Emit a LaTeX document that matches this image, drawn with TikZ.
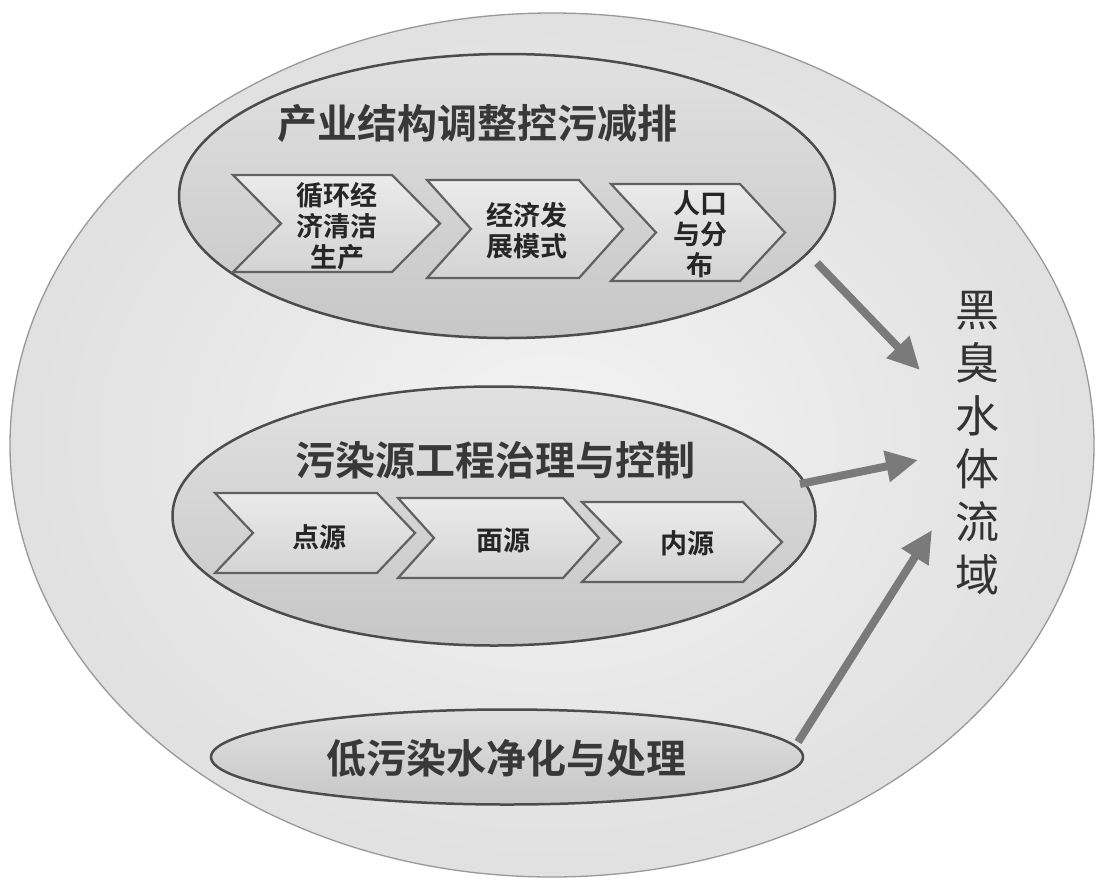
\documentclass[tikz,border=0pt]{standalone}
\usepackage{fontspec}
\usetikzlibrary{arrows.meta,shapes.geometric}
\newfontfamily\cjk{Noto Sans CJK SC}[BoldFont={Noto Sans CJK SC Bold}]
\newcommand{\chevpath}[5]{% x y w h d
  (#1,#2) -- ({#1+#3-#5},#2) -- ({#1+#3},{#2+#4/2}) -- ({#1+#3-#5},{#2+#4}) -- (#1,{#2+#4}) -- ({#1+#5},{#2+#4/2}) -- cycle}
\tikzset{
  outerell/.style={ellipse, draw=gray!80, line width=1.3pt, inner color=gray!9, outer color=gray!24,
    minimum width=1084pt, minimum height=864pt, inner sep=0pt},
  innerell/.style={ellipse, draw=black!70, line width=2.5pt, top color=gray!24, bottom color=gray!44, inner sep=0pt},
  chevshape/.style={draw=black!62, line width=2.2pt, top color=gray!16, bottom color=gray!34},
  chevtext/.style={font=\cjk\bfseries\fontsize{27}{31}\selectfont, text=black!85, align=center, inner sep=0pt},
  titletext/.style={font=\cjk\bfseries\fontsize{40}{48}\selectfont, text=black!78, inner sep=0pt},
  sidetext/.style={font=\cjk\fontsize{44}{53}\selectfont, text=black!80, align=center, inner sep=0pt},
  flowarrow/.style={line width=8pt, draw=black!52, -{Triangle[width=30pt,length=32pt]}},
}
\begin{document}
\begin{tikzpicture}[x=1pt,y=-1pt]
\useasboundingbox[fill=white] (0,0) rectangle (1102,881);
% outer ellipse
\node[outerell] (outer) at (552,445) {};
% group ellipses
\node[innerell, minimum width=656pt, minimum height=284pt] (g1) at (507,196) {};
\node[innerell, minimum width=643pt, minimum height=259pt] (g2) at (494,516) {};
\node[innerell, minimum width=592pt, minimum height=95pt] (g3) at (507,757) {};
% titles
\node[titletext] (t1) at (477,123) {产业结构调整控污减排};
\node[titletext] (t2) at (495,460) {污染源工程治理与控制};
\node[titletext] (t3) at (506,758) {低污染水净化与处理};
% chevrons row 1
\path[chevshape] \chevpath{233}{175}{207}{97}{48};
\path[chevshape] \chevpath{427}{180}{196}{98}{44};
\path[chevshape] \chevpath{611}{184}{174}{97}{45};
\node[chevtext] (c11) at (337,226) {循环经\\济清洁\\生产};
\node[chevtext] (c12) at (527,231) {经济发\\展模式};
\node[chevtext] (c13) at (700,234) {人口\\与分\\布};
% chevrons row 2
\path[chevshape] \chevpath{215}{493}{200}{80}{38};
\path[chevshape] \chevpath{398}{498}{201}{80}{36};
\path[chevshape] \chevpath{582}{502}{200}{80}{39};
\node[chevtext] (c21) at (319,537) {点源};
\node[chevtext] (c22) at (503,540) {面源};
\node[chevtext] (c23) at (687,543) {内源};
% target text
\node[sidetext] (target) at (977,443) {黑\\臭\\水\\体\\流\\域};
% arrows
\coordinate (a1s) at (817,263);
\coordinate (a1e) at (920,370);
\coordinate (a2s) at (800,484);
\coordinate (a2e) at (918,460);
\coordinate (a3s) at (798,742);
\coordinate (a3e) at (932,530);
\draw[flowarrow] (a1s) -- (a1e);
\draw[flowarrow] (a2s) -- (a2e);
\draw[flowarrow] (a3s) -- (a3e);
\end{tikzpicture}
\end{document}
